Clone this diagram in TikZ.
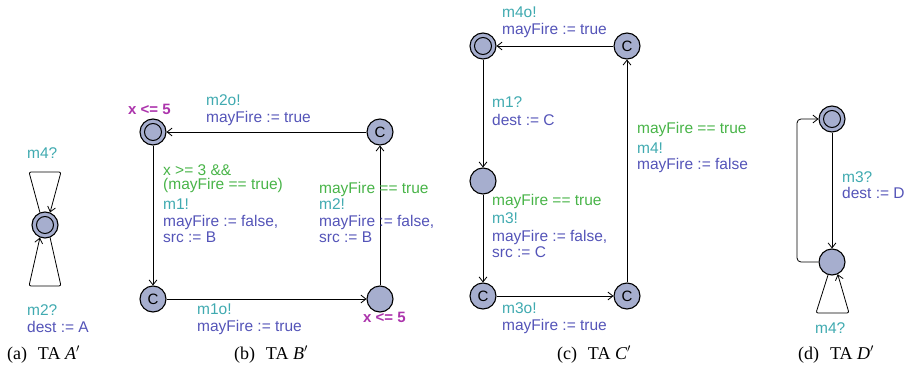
\documentclass[tikz,border=0pt]{standalone}
\usepackage{fontspec}
\setmainfont{Liberation Serif}
\newfontfamily\labfont{Liberation Sans}
\usetikzlibrary{arrows.meta}
\definecolor{syncc}{RGB}{64,170,176}
\definecolor{updc}{RGB}{84,84,184}
\definecolor{guardc}{RGB}{72,180,72}
\definecolor{invc}{RGB}{172,52,172}
\definecolor{locfill}{RGB}{166,174,206}
\begin{document}
\begin{tikzpicture}[x=1pt,y=-1pt,
  loc/.style={circle,draw,line width=1.1pt,fill=locfill,minimum size=26pt,inner sep=0pt,
    font=\labfont\fontsize{15}{15}\selectfont},
  initloc/.style={loc,path picture={\draw[line width=1pt] (path picture bounding box.center) circle (8.5pt);}},
  edge/.style={draw,line width=0.8pt,-{Straight Barb[length=5pt,width=8pt]}},
  txt/.style={anchor=base west,inner sep=0pt,font=\labfont\fontsize{15.5}{17}\selectfont},
  sync/.style={txt,text=syncc},
  upd/.style={txt,text=updc},
  grd/.style={txt,text=guardc},
  inv/.style={txt,text=invc,font=\labfont\bfseries\fontsize{15}{17}\selectfont},
  captxt/.style={anchor=base west,inner sep=0pt,font=\fontsize{18}{20}\selectfont}]
\useasboundingbox (0,0) rectangle (904,369);

% ---------- (a) TA A'
\node[initloc] (a) at (45,225) {};
\draw[edge,rounded corners=2pt] (a.112) -- (29,172) -- (61,172) -- (a.68);
\draw[edge,rounded corners=2pt] (a.-68) -- (61,286) -- (29,286) -- (a.-112);
\node[sync] (a1) at (27,158) {m4?};
\node[sync] (a2) at (27,315) {m2?};
\node[upd] (a3) at (27,332) {dest := A};
\node[captxt] (capa) at (7,359) {(a)\hspace{0.6em}TA {\itshape A}$'$};

% ---------- (b) TA B'
\node[initloc] (b1) at (153,132) {};
\node[loc] (b2) at (380,132) {C};
\node[loc] (b3) at (153,299) {C};
\node[loc] (b4) at (380,299) {};
\draw[edge] (b2) -- (b1);
\draw[edge] (b1) -- (b3);
\draw[edge] (b3) -- (b4);
\draw[edge] (b4) -- (b2);
\node[inv] (bi1) at (128,114) {x <= 5};
\node[sync] (bt1) at (206,105) {m2o!};
\node[upd] (bt2) at (206,122) {mayFire := true};
\node[grd] (bl1) at (163,175) {x >= 3 \&\&};
\node[grd] (bl2) at (163,189) {(mayFire == true)};
\node[sync] (bl3) at (163,209) {m1!};
\node[upd] (bl4) at (163,226) {mayFire := false,};
\node[upd] (bl5) at (163,242) {src := B};
\node[grd] (br1) at (319,193) {mayFire == true};
\node[sync] (br2) at (319,209) {m2!};
\node[upd] (br3) at (319,226) {mayFire := false,};
\node[upd] (br4) at (319,242) {src := B};
\node[sync] (bb1) at (197,314) {m1o!};
\node[upd] (bb2) at (197,331) {mayFire := true};
\node[inv] (bi2) at (363,322) {x <= 5};
\node[captxt] (capb) at (234,359) {(b)\hspace{0.6em}TA {\itshape B}$'$};

% ---------- (c) TA C'
\node[initloc] (c1) at (483,46) {};
\node[loc] (c2) at (627,46) {C};
\node[loc] (c3) at (483,181) {};
\node[loc] (c4) at (483,296) {C};
\node[loc] (c5) at (627,296) {C};
\draw[edge] (c2) -- (c1);
\draw[edge] (c1) -- (c3);
\draw[edge] (c3) -- (c4);
\draw[edge] (c4) -- (c5);
\draw[edge] (c5) -- (c2);
\node[sync] (ct1) at (502,18) {m4o!};
\node[upd] (ct2) at (502,35) {mayFire := true};
\node[sync] (cl1) at (492,107) {m1?};
\node[upd] (cl2) at (492,125) {dest := C};
\node[grd] (cr1) at (637,133) {mayFire == true};
\node[sync] (cr2) at (637,153) {m4!};
\node[upd] (cr3) at (637,169) {mayFire := false};
\node[grd] (cm1) at (492,205) {mayFire == true};
\node[sync] (cm2) at (492,223) {m3!};
\node[upd] (cm3) at (492,241) {mayFire := false,};
\node[upd] (cm4) at (492,257) {src := C};
\node[sync] (cb1) at (502,313) {m3o!};
\node[upd] (cb2) at (502,330) {mayFire := true};
\node[captxt] (capc) at (557,359) {(c)\hspace{0.6em}TA {\itshape C}$'$};

% ---------- (d) TA D'
\node[initloc] (d1) at (832,119) {};
\node[loc] (d2) at (832,262) {};
\coordinate (dk1) at (797,262);
\coordinate (dk2) at (797,119);
\coordinate (dk3) at (816,313);
\coordinate (dk4) at (849,313);
\draw[edge] (d1) -- (d2);
\draw[edge,rounded corners=4pt] (d2.west) -- (dk1) -- (dk2) -- (d1.west);
\draw[edge,rounded corners=2pt] (d2.-107) -- (dk3) -- (dk4) -- (d2.-65);
\node[sync] (dl1) at (842,182) {m3?};
\node[upd] (dl2) at (842,198) {dest := D};
\node[sync] (dl3) at (815,333) {m4?};
\node[captxt] (capd) at (798,359) {(d)\hspace{0.6em}TA {\itshape D}$'$};
\end{tikzpicture}
\end{document}
